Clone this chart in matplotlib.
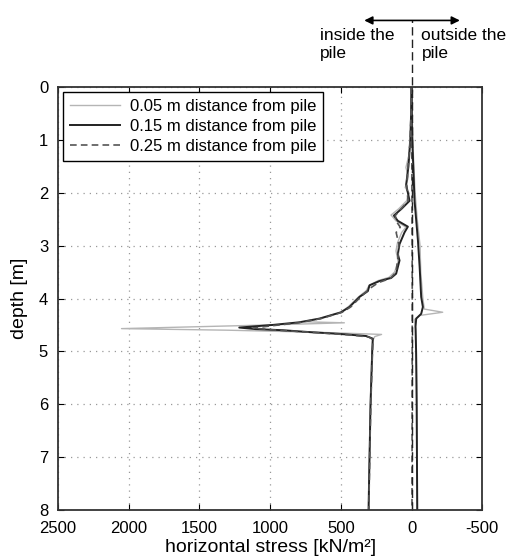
import numpy as np
import matplotlib.pyplot as plt

plt.rcParams['font.family'] = ['Liberation Sans', 'DejaVu Sans']

# inside the pile (positive stress), depth in m, stress in kN/m2
d_in_015 = [0.0, 0.5, 1.0, 1.2, 1.5, 1.84, 1.95, 2.15, 2.3, 2.43, 2.53, 2.64, 2.75, 2.97,
            3.16, 3.28, 3.53, 3.61, 3.67, 3.75, 3.86, 3.97, 4.16, 4.26, 4.38, 4.45,
            4.50, 4.55, 4.58, 4.60, 4.64, 4.67, 4.71, 4.76, 5.0, 6.0, 7.0, 8.0]
s_in_015 = [0, 3, 8, 14, 22, 38, 30, 14, 70, 125, 97, 26, 50, 85,
            97, 85, 109, 144, 227, 297, 309, 368, 439, 498, 651, 793,
            980, 1218, 1100, 911, 700, 510, 321, 274, 278, 290, 297, 304]

d_in_005 = [0.0, 0.5, 1.0, 1.3, 1.52, 1.7, 1.9, 2.0, 2.15, 2.3, 2.42, 2.53, 2.65, 2.75, 2.95,
            3.1, 3.3, 3.5, 3.6, 3.66, 3.75, 3.85, 3.97, 4.15, 4.27, 4.38, 4.44, 4.46,
            4.50, 4.57, 4.60, 4.64, 4.68, 4.72, 4.80, 5.0, 6.0, 7.0, 8.0]
s_in_005 = [0, 5, 12, 20, 40, 22, 45, 18, 35, 90, 145, 110, 40, 70, 100,
            110, 95, 120, 160, 235, 300, 320, 375, 445, 505, 640, 760, 475,
            1000, 2050, 1300, 650, 212, 260, 275, 280, 291, 298, 303]

d_in_025 = [0.0, 0.5, 1.0, 1.5, 1.85, 2.15, 2.43, 2.55, 2.65, 2.75, 2.97, 3.2, 3.5,
            3.62, 3.7, 3.8, 3.97, 4.16, 4.26, 4.38, 4.46, 4.52, 4.56, 4.60, 4.65,
            4.69, 4.73, 4.78, 5.0, 6.0, 7.0, 8.0]
s_in_025 = [0, 4, 10, 25, 35, 25, 115, 105, 80, 109, 90, 95, 110,
            150, 235, 290, 360, 430, 490, 640, 800, 1000, 1120, 950, 650,
            430, 300, 272, 276, 288, 296, 302]

# outside the pile (negative stress)
d_out_015 = [0.0, 1.0, 2.15, 2.9, 3.4, 3.97, 4.16, 4.29, 4.38, 4.53, 5.0, 6.0, 7.0, 8.0]
s_out_015 = [0, -5, -21, -45, -57, -68, -80, -68, -33, -28, -32, -36, -38, -40]

d_out_005 = [0.0, 1.0, 2.0, 2.5, 3.0, 3.5, 4.0, 4.2, 4.26, 4.32, 4.4, 4.6, 5.0, 6.0, 7.0, 8.0]
s_out_005 = [0, -8, -25, -40, -60, -65, -80, -90, -220, -60, -20, -30, -34, -38, -40, -42]

d_out_025 = [0.0, 2.0, 4.0, 6.0, 8.0]
s_out_025 = [0, -3, -5, -4, -3]

labels = ['0.05 m distance from pile', '0.15 m distance from pile', '0.25 m distance from pile']

fig = plt.figure(figsize=(5.12, 5.59), dpi=100)
ax = fig.add_axes([0.113, 0.088, 0.829, 0.756])

l1, = ax.plot(s_in_005, d_in_005, color='#b5b5b5', lw=1.0)
ax.plot(s_out_005, d_out_005, color='#b5b5b5', lw=1.0)
l2, = ax.plot(s_in_015, d_in_015, color='#222222', lw=1.4)
ax.plot(s_out_015, d_out_015, color='#222222', lw=1.4)
l3, = ax.plot(s_in_025, d_in_025, color='#555555', lw=1.2, ls=(0, (4, 2.5)))
ax.plot(s_out_025, d_out_025, color='#555555', lw=1.2, ls=(0, (4, 2.5)))

ax.set_xlim(2500, -500)
ax.set_ylim(8, 0)
ax.set_xticks([2500, 2000, 1500, 1000, 500, 0, -500])
ax.set_xticklabels(['2500', '2000', '1500', '1000', '500', '0', '-500'])
ax.set_yticks(range(9))
ax.grid(True, ls=(0, (1, 4)), color='#999999', lw=0.9)
ax.tick_params(direction='in', top=True, right=True, labelsize=12, length=4)
ax.tick_params(axis='x', pad=8)
ax.tick_params(axis='y', pad=7)
for sp in ax.spines.values():
    sp.set_linewidth(1.3)
    sp.set_color('#333333')
ax.set_xlabel('horizontal stress [kN/m²]', fontsize=14, labelpad=2)
ax.set_ylabel('depth [m]', fontsize=14, labelpad=8)

leg = ax.legend([l1, l2, l3], labels, loc='upper left', fontsize=12, fancybox=False,
                framealpha=1, edgecolor='black', handlelength=3.0, handletextpad=0.6,
                labelspacing=0.3, borderaxespad=0.3, borderpad=0.4)
leg.get_frame().set_linewidth(1.0)

# direction annotation above the axes
ax.axvline(0, 0, 1.16, clip_on=False, color='#222222', lw=1.0, ls=(0, (6, 3)))
ax.annotate('', xy=(354, 1.158), xytext=(-361, 1.158), xycoords=('data', 'axes fraction'),
            textcoords=('data', 'axes fraction'), annotation_clip=False,
            arrowprops=dict(arrowstyle='<|-|>', color='black', lw=1.2, mutation_scale=12))
ax.text(120, 1.14, 'inside the\npile', transform=ax.get_xaxis_transform(),
        ha='right', va='top', fontsize=12.5, linespacing=1.25, multialignment='left')
ax.text(-70, 1.14, 'outside the\npile', transform=ax.get_xaxis_transform(),
        ha='left', va='top', fontsize=12.5, linespacing=1.25, multialignment='left')

fig.savefig('out.png', dpi=100)
